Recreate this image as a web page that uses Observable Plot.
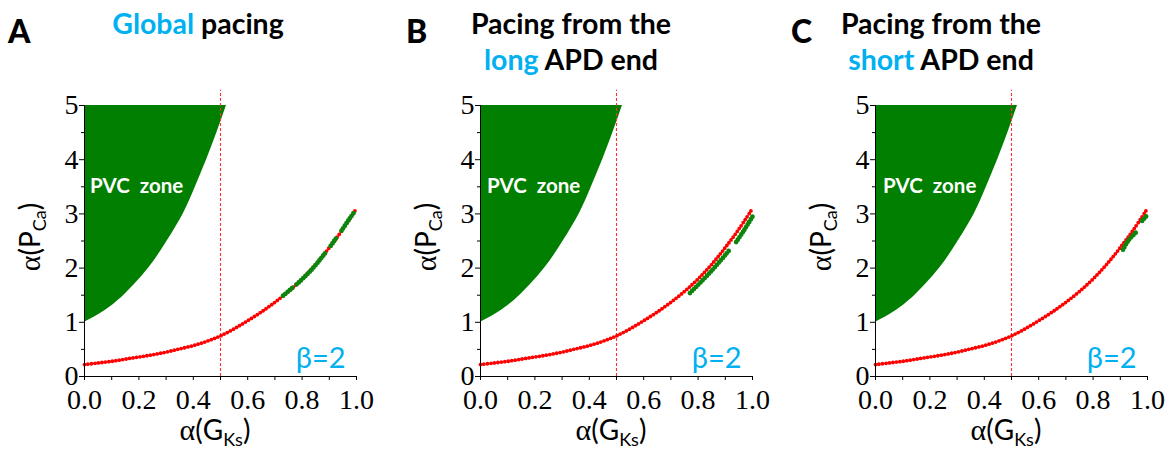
<!DOCTYPE html>
<html><head><meta charset="utf-8">
<script src="https://cdn.jsdelivr.net/npm/d3@7"></script>
<script src="https://cdn.jsdelivr.net/npm/@observablehq/plot@0.6"></script>
<style>
body{margin:0;background:#fff;}
#root{position:relative;width:1172px;height:456px;overflow:hidden;background:#fff;}
.abs{position:absolute;white-space:nowrap;}
.letter{font-family:Lato,sans-serif;font-weight:900;font-size:32px;line-height:1;}
.title{font-family:Lato,sans-serif;font-weight:700;font-size:28.5px;line-height:1;transform:translateX(-50%);text-align:center;}
.title .hl{color:#00b0f0;}
.axlab{font-family:Lato,sans-serif;font-size:28px;line-height:1;}
.axlab .a{font-family:'Liberation Serif',serif;font-size:30px;}
.axlab sub{font-size:18px;vertical-align:-6px;line-height:0;}
</style></head>
<body><div id="root"></div>
<script>
// ---------- data ----------
const panelLetters = ["A", "B", "C"];
const titleLine1 = [["Global", " pacing"], ["", "Pacing from the"], ["", "Pacing from the"]];
const titleLine2 = [null, ["long", " APD end"], ["short", " APD end"]];

// PVC zone boundary (alpha(PCa) as function of alpha(GKs))
const zoneY = [1.0, 1.2, 1.5, 2.0, 2.5, 3.0, 3.5, 4.0, 4.5, 5.0];
const zoneX = [0.0, 0.07, 0.145, 0.236, 0.304, 0.363, 0.408, 0.449, 0.487, 0.522];

// red threshold curve
const curveX = [0, 0.05, 0.1, 0.15, 0.2, 0.25, 0.3, 0.35, 0.4, 0.45, 0.5, 0.55, 0.6, 0.65, 0.7, 0.75, 0.8, 0.85, 0.9, 0.95, 1.0];
const curveY = [0.22, 0.25, 0.28, 0.32, 0.36, 0.40, 0.45, 0.51, 0.57, 0.65, 0.75, 0.88, 1.03, 1.19, 1.37, 1.57, 1.80, 2.07, 2.38, 2.72, 3.10];

// green (PVC) points, per panel: [segment, x, y]
const greenA = [
  [0, 0.73, 1.49], [0, 0.77, 1.66],
  [1, 0.78, 1.70], [1, 0.835, 1.97], [1, 0.89, 2.31],
  [2, 0.905, 2.41], [2, 0.925, 2.55],
  [3, 0.945, 2.69], [3, 0.97, 2.88], [3, 0.99, 3.02]
];
const greenB = [
  [0, 0.77, 1.54], [0, 0.846, 1.93], [0, 0.913, 2.32],
  [1, 0.94, 2.48], [1, 0.968, 2.69], [1, 1.0, 2.95]
];
const greenC = [
  [0, 0.91, 2.34], [0, 0.93, 2.51], [0, 0.958, 2.66],
  [1, 0.98, 2.87], [1, 0.998, 2.97]
];
const greens = [greenA, greenB, greenC];

const xMajorTicks = [0, 0.2, 0.4, 0.6, 0.8, 1.0];
const xAllTicks = [0, 0.1, 0.2, 0.3, 0.4, 0.5, 0.6, 0.7, 0.8, 0.9, 1.0];
const yMajorTicks = [0, 1, 2, 3, 4, 5];
const yMinorTicks = [0.5, 1.5, 2.5, 3.5, 4.5];
const vlineX = 0.5;
const betaLabel = "β=2";
const zoneLabel = "PVC\u00a0\u00a0zone";

// ---------- layout ----------
const panelLeft = [0, 396, 791];
const letterPos = [[8, 15], [406, 15], [791, 15]];
const titleCenter = [198, 571, 941];

const root = document.getElementById("root");
const zone = zoneX.map((x, i) => ({x, y: zoneY[i]}));
const curve = curveX.map((x, i) => ({x, y: curveY[i]}));

function add(html, cls, left, top) {
  const d = document.createElement("div");
  d.className = "abs " + cls;
  d.style.left = left + "px"; d.style.top = top + "px";
  d.innerHTML = html;
  root.appendChild(d);
  return d;
}

const tickFont = {fontSize: 28, fontFamily: "'Liberation Serif', serif"};

panelLetters.forEach((letter, p) => {
  const L = panelLeft[p];
  add(letter, "letter", letterPos[p][0], letterPos[p][1]);
  const t1 = titleLine1[p];
  add(`<span class="hl">${t1[0]}</span>${t1[1]}`, "title", titleCenter[p], 9);
  if (titleLine2[p]) {
    const t2 = titleLine2[p];
    add(`<span class="hl">${t2[0]}</span>${t2[1]}`, "title", titleCenter[p], 45);
  }
  const green = greens[p].map(([s, x, y]) => ({s, x, y}));
  const chart = Plot.plot({
    width: 376, height: 366,
    marginLeft: 84, marginRight: 20, marginTop: 15, marginBottom: 80,
    x: {domain: [0, 1], label: null},
    y: {domain: [0, 5], label: null},
    style: {fontFamily: "'Liberation Serif', serif", fontSize: "28px", color: "black", background: "transparent", overflow: "visible"},
    marks: [
      Plot.areaX(zone, {x: "x", y: "y", fill: "#007f00", curve: "natural"}),
      Plot.ruleX([vlineX], {y1: 0, y2: 5.28, stroke: "#ff3030", strokeWidth: 1.1, strokeDasharray: "3,2", clip: false}),
      Plot.line(curve, {x: "x", y: "y", stroke: "#ff0000", strokeWidth: 3.8, strokeDasharray: "0 3.5", strokeLinecap: "round", curve: "catmull-rom"}),
      Plot.line(green, {x: "x", y: "y", z: "s", stroke: "#0c850c", strokeWidth: 4.8, strokeDasharray: "0 3", strokeLinecap: "round", curve: "catmull-rom"}),
      Plot.text([zoneLabel], {x: 0.02 + p * 0.004, y: 3.5, text: d => d, textAnchor: "start", fill: "white", fontFamily: "Lato, sans-serif", fontWeight: 700, fontSize: 20.5}),
      Plot.text([betaLabel], {x: 0.96, y: 0.33, text: d => d, textAnchor: "end", fill: "#00b0f0", fontFamily: "Lato, sans-serif", fontSize: 29}),
      Plot.ruleX([0], {y1: 0, y2: 5, stroke: "black"}),
      Plot.ruleY([0], {x1: 0, x2: 1, stroke: "black"}),
      Plot.axisX({ticks: xAllTicks, tickSize: 4, tickFormat: () => "", stroke: "black"}),
      Plot.axisX({ticks: xMajorTicks, tickSize: 0, tickPadding: 13, tickFormat: d3.format(".1f"), fill: "black", ...tickFont}),
      Plot.axisY({ticks: yMinorTicks, tickSize: 3, tickFormat: () => "", stroke: "black"}),
      Plot.axisY({ticks: yMajorTicks, tickSize: 5, tickPadding: 1, tickFormat: d3.format("d"), fill: "black", stroke: "black", ...tickFont})
    ]
  });
  chart.style.position = "absolute";
  chart.style.left = L + "px";
  chart.style.top = "90px";
  root.appendChild(chart);
  // axis titles
  const xl = add(`<span class="a">α</span>(G<sub>Ks</sub>)`, "axlab", L + 215, 415);
  xl.style.transform = "translateX(-50%)";
  const yl = add(`<span class="a">α</span>(P<sub>Ca</sub>)`, "axlab", L + 30, 237);
  yl.style.transform = "translate(-50%,-50%) rotate(-90deg)";
});
</script>
</body></html>
